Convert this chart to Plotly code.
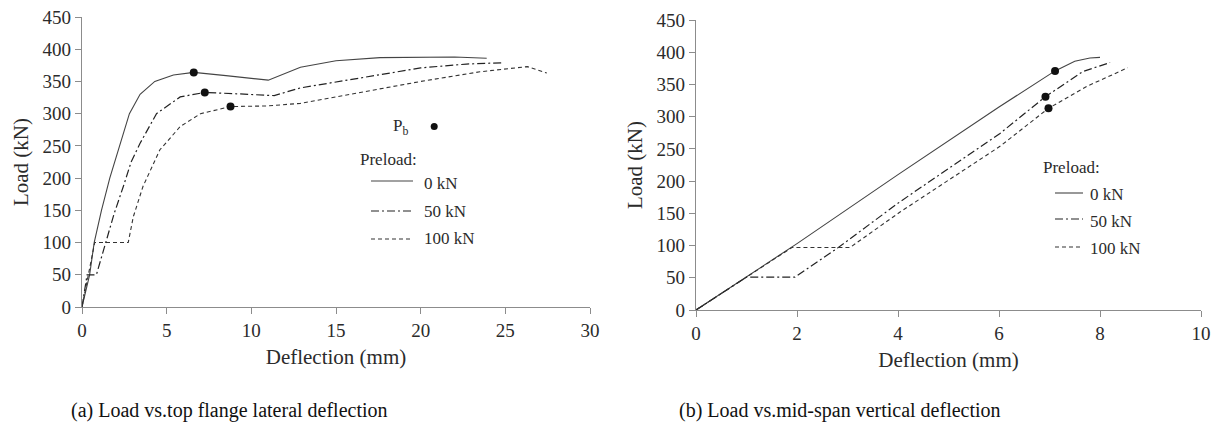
import plotly.graph_objects as go

# ---- (a) Load vs. top flange lateral deflection ----
defl_a_0 = [0, 0.45, 0.72, 1.15, 1.64, 2.24, 2.8, 3.43, 4.3, 5.4, 6.6, 8.5, 11.0, 12.9, 15.0, 17.6, 20.0, 22.0, 23.9]
load_a_0 = [0, 50, 100, 150, 200, 250, 300, 330, 350, 360, 364, 359, 352, 372, 382, 387, 388, 388, 386]

defl_a_50 = [0, 0.3, 0.85, 1.45, 1.9, 2.44, 2.9, 3.43, 4.4, 5.8, 7.25, 9.0, 11.35, 12.9, 13.6, 16.6, 20.0, 22.7, 24.8]
load_a_50 = [0, 50, 50, 104, 145, 187, 225, 254, 300, 326, 333, 331, 328, 340, 343, 357, 371, 377, 379]

defl_a_100 = [0, 0.75, 2.73, 3.03, 3.6, 4.6, 5.8, 7.0, 8.77, 10.95, 12.9, 16.6, 20.0, 23.5, 26.3, 27.45]
load_a_100 = [0, 100, 100, 140, 187, 244, 280, 300, 311, 312, 316, 334, 350, 365, 373, 363]

# buckling load P_b on each curve of (a), plus the key marker
pb_a_defl = [6.6, 7.25, 8.77]
pb_a_load = [364, 333, 311]
pb_key_a = (20.8, 280)

# ---- (b) Load vs. mid-span vertical deflection ----
defl_b_0 = [0, 2.0, 4.0, 6.0, 7.11, 7.5, 7.8, 8.0]
load_b_0 = [0, 103, 210, 315, 371, 386, 391, 392]

defl_b_50 = [0, 1.0, 1.96, 2.8, 4.04, 6.02, 6.92, 7.66, 8.2]
load_b_50 = [0, 51, 51, 96, 168, 274, 331, 370, 384]

defl_b_100 = [0, 1.9, 3.05, 4.04, 6.02, 6.98, 7.74, 8.55]
load_b_100 = [0, 97, 97, 152, 254, 313, 347, 376]

pb_b_defl = [7.11, 6.92, 6.98]
pb_b_load = [371, 331, 313]

preload_names = ["0 kN", "50 kN", "100 kN"]
x_ticks_a = [0, 5, 10, 15, 20, 25, 30]
x_ticks_b = [0, 2, 4, 6, 8, 10]
y_ticks = [0, 50, 100, 150, 200, 250, 300, 350, 400, 450]

FONT = "Liberation Serif"
INK = "#2b2b2b"
AXIS = "#8c8c8c"
styles = [
    dict(color="#444444", width=1.1, dash="solid"),
    dict(color="#222222", width=1.2, dash="8px,3px,2px,3px"),
    dict(color="#333333", width=1.1, dash="4px,3px"),
]

W, H = 1222, 432
fig = go.Figure()

curves_a = [(defl_a_0, load_a_0), (defl_a_50, load_a_50), (defl_a_100, load_a_100)]
curves_b = [(defl_b_0, load_b_0), (defl_b_50, load_b_50), (defl_b_100, load_b_100)]

for i, (xs, ys) in enumerate(curves_a):
    fig.add_trace(go.Scatter(x=xs, y=ys, mode="lines", line=styles[i], name=preload_names[i],
                             showlegend=False, xaxis="x", yaxis="y"))
for i, (xs, ys) in enumerate(curves_b):
    fig.add_trace(go.Scatter(x=xs, y=ys, mode="lines", line=styles[i], name=preload_names[i],
                             showlegend=False, xaxis="x2", yaxis="y2"))

dot = dict(color="#111111", size=8)
fig.add_trace(go.Scatter(x=pb_a_defl, y=pb_a_load, mode="markers", marker=dot,
                         showlegend=False, xaxis="x", yaxis="y"))
fig.add_trace(go.Scatter(x=[pb_key_a[0]], y=[pb_key_a[1]], mode="markers", marker=dict(color="#111111", size=7),
                         showlegend=False, xaxis="x", yaxis="y"))
fig.add_trace(go.Scatter(x=pb_b_defl, y=pb_b_load, mode="markers", marker=dot,
                         showlegend=False, xaxis="x2", yaxis="y2"))

tick_font = dict(family=FONT, size=19, color=INK)
title_font = dict(family=FONT, size=21, color=INK)


def xax(domain, rng, ticks, anchor):
    return dict(domain=domain, range=rng, tickvals=ticks, anchor=anchor, automargin=False,
                showgrid=False, zeroline=False, showline=True, linecolor=AXIS, linewidth=1.2,
                ticks="outside", ticklen=6, tickcolor=AXIS, tickwidth=1.2,
                tickfont=tick_font, title=dict(text="Deflection (mm)", font=title_font, standoff=9))


def yax(domain, ticks, anchor):
    return dict(domain=domain, range=[0, 450], tickvals=ticks, anchor=anchor, automargin=False,
                showgrid=False, zeroline=False, showline=True, linecolor=AXIS, linewidth=1.2,
                ticks="outside", ticklen=6, tickcolor=AXIS, tickwidth=1.2,
                tickfont=tick_font, title=dict(text="Load (kN)", font=title_font, standoff=8))


def px_x(p):
    return p / W


def px_y(p):
    return 1 - p / H


shapes = []
annotations = []


def add_key(title_xy, line_x, line_ys, label_x, label_ys):
    """Preload key drawn in page pixels: a heading, sample strokes and labels."""
    annotations.append(dict(x=px_x(title_xy[0]), y=px_y(title_xy[1]), xref="paper", yref="paper",
                            text="Preload:", showarrow=False, xanchor="left", yanchor="middle",
                            font=dict(family=FONT, size=17, color=INK)))
    for i in range(3):
        shapes.append(dict(type="line", xref="paper", yref="paper",
                           x0=px_x(line_x[0]), x1=px_x(line_x[1]),
                           y0=px_y(line_ys[i]), y1=px_y(line_ys[i]), line=styles[i]))
        annotations.append(dict(x=px_x(label_x), y=px_y(label_ys[i]), xref="paper", yref="paper",
                                text=preload_names[i], showarrow=False, xanchor="left", yanchor="middle",
                                font=dict(family=FONT, size=17, color=INK)))


add_key((358, 159), (371, 413), [181, 211, 239], 422, [183, 212, 239])
add_key((1041, 168), (1055, 1083), [193, 219, 247], 1088, [194, 222, 249])

annotations += [
    dict(x=pb_key_a[0], y=pb_key_a[1], xref="x", yref="y", text="P<sub>b</sub>",
         showarrow=False, xanchor="right", xshift=-24, font=dict(family=FONT, size=17, color=INK)),
    dict(x=px_x(229), y=px_y(410), xref="paper", yref="paper", showarrow=False,
         xanchor="center", yanchor="middle",
         text="(a) Load vs.top flange lateral deflection", font=dict(family=FONT, size=20, color="#111111")),
    dict(x=px_x(840), y=px_y(410), xref="paper", yref="paper", showarrow=False,
         xanchor="center", yanchor="middle",
         text="(b) Load vs.mid-span vertical deflection", font=dict(family=FONT, size=20, color="#111111")),
]

fig.update_layout(
    width=W, height=H, margin=dict(l=0, r=0, t=0, b=0, autoexpand=False),
    paper_bgcolor="white", plot_bgcolor="white", showlegend=False,
    xaxis=xax([82 / W, 590 / W], [0, 30], x_ticks_a, "y"),
    yaxis=yax([1 - 307 / H, 1 - 17 / H], y_ticks, "x"),
    xaxis2=xax([696 / W, 1201 / W], [0, 10], x_ticks_b, "y2"),
    yaxis2=yax([1 - 310 / H, 1 - 20 / H], y_ticks, "x2"),
    shapes=shapes,
    annotations=annotations,
)

fig.write_html("out.html")
